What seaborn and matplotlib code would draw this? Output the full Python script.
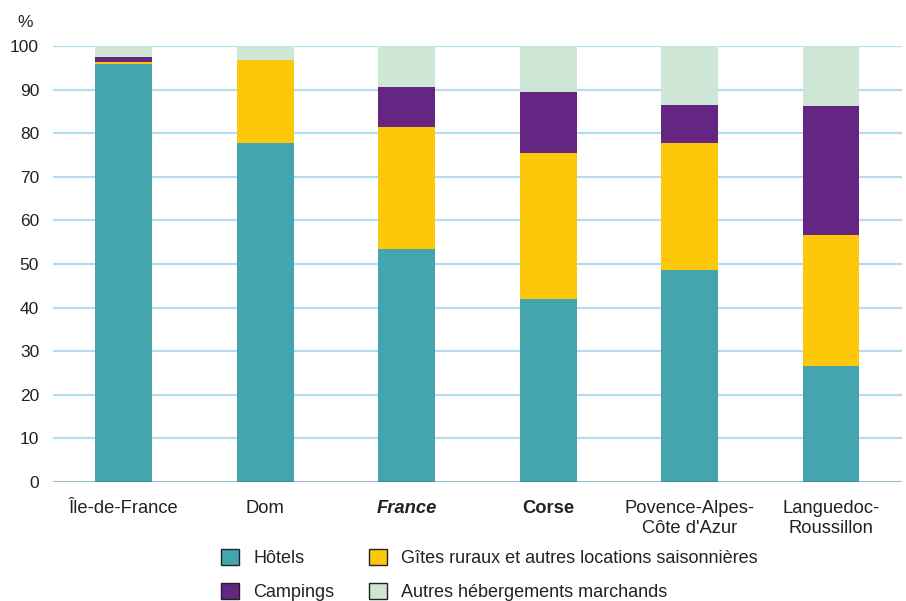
import matplotlib
matplotlib.use("Agg")
import matplotlib.pyplot as plt
import seaborn as sns
import pandas as pd
import numpy as np
from matplotlib.patches import Patch

regions = ["Île-de-France", "Dom", "France", "Corse",
           "Povence-Alpes-\nCôte d'Azur", "Languedoc-\nRoussillon"]
hotels = [95.9, 77.8, 53.4, 42.0, 48.6, 26.6]
gites = [0.4, 19.0, 28.0, 33.5, 29.2, 30.1]
campings = [1.2, 0.0, 9.2, 13.9, 8.7, 29.5]
autres = [2.5, 3.2, 9.4, 10.6, 13.5, 13.8]

series = ["Hôtels", "Gîtes ruraux et autres locations saisonnières",
          "Campings", "Autres hébergements marchands"]
colors = ["#45A5AE", "#FEC80A", "#652583", "#CDE6D5"]

df = pd.DataFrame({"region": regions, series[0]: hotels, series[1]: gites,
                   series[2]: campings, series[3]: autres})
cum = df[series].cumsum(axis=1)

sns.set_theme(style="white")
plt.rcParams["font.family"] = ["Liberation Sans", "DejaVu Sans"]

fig = plt.figure(figsize=(9.06, 6.01), dpi=100)
ax = fig.add_axes([0.0585, 0.198, 0.937, 0.7255])

# stacked bars: draw cumulative totals from the top layer down
for name, col in reversed(list(zip(series, colors))):
    sns.barplot(x=df["region"], y=cum[name], color=col, width=0.4,
                saturation=1, ax=ax, zorder=3, linewidth=0)

ax.set_ylim(0, 100)
ax.set_xlim(-0.5, 5.5)
ax.set_yticks(range(0, 101, 10))
ax.yaxis.grid(True, color="#B5DBF0", linewidth=1.6, zorder=0)
ax.set_axisbelow(True)
for s in ax.spines.values():
    s.set_visible(False)
ax.axhline(0, color="#333333", linewidth=1.0, zorder=4)
ax.set_xlabel("")
ax.set_ylabel("")
ax.tick_params(axis="both", length=0, colors="#222222")
ax.tick_params(axis="y", pad=10, labelsize=12.5)
ax.tick_params(axis="x", pad=13, labelsize=13.2)
ax.set_xticks(range(len(regions)))
ax.set_xticklabels(regions, linespacing=1.25)
for lbl in ax.get_xticklabels():
    if lbl.get_text() == "France":
        lbl.set_fontweight("bold")
        lbl.set_fontstyle("italic")
    elif lbl.get_text() == "Corse":
        lbl.set_fontweight("bold")

fig.text(0.019, 0.955, "%", fontsize=12.5, color="#222222")

handles = [Patch(facecolor=colors[0], edgecolor="#222222", label=series[0]),
           Patch(facecolor=colors[2], edgecolor="#222222", label=series[2]),
           Patch(facecolor=colors[1], edgecolor="#222222", label=series[1]),
           Patch(facecolor=colors[3], edgecolor="#222222", label=series[3])]
fig.legend(handles=handles, ncol=2, loc="lower left",
           bbox_to_anchor=(0.226, -0.027), frameon=False, fontsize=13.0,
           handlelength=1.0, handleheight=1.0, columnspacing=1.9,
           labelspacing=0.88, handletextpad=0.8, labelcolor="#222222")

fig.savefig("out.png", dpi=100)
